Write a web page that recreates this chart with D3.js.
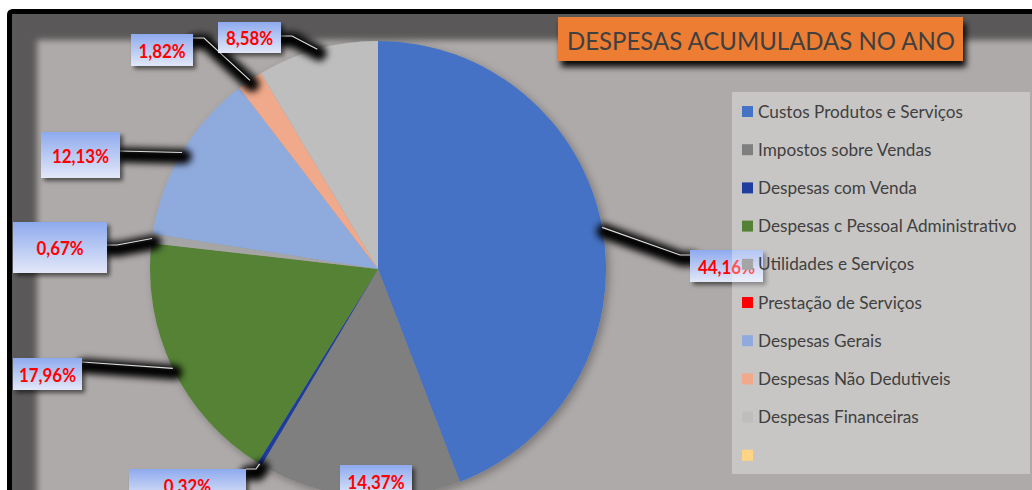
<!DOCTYPE html>
<html><head><meta charset="utf-8">
<script src="https://cdn.jsdelivr.net/npm/d3@7/dist/d3.min.js"></script>
<style>html,body{margin:0;padding:0;background:#fff;overflow:hidden}svg{display:block}</style>
</head><body>
<svg id="c" width="1032" height="490"></svg>
<script>
// ---------- DATA ----------
const categories = ["Custos Produtos e Serviços","Impostos sobre Vendas","Despesas com Venda","Despesas c Pessoal Administrativo","Utilidades e Serviços","Prestação de Serviços","Despesas Gerais","Despesas Não Dedutiveis","Despesas Financeiras",""];
const values = [44.16, 14.37, 0.32, 17.96, 0.67, 0, 12.13, 1.82, 8.58, 0];
const valueLabels = ["44,16%","14,37%","0.32%","17,96%","0,67%",null,"12,13%","1,82%","8,58%",null];
const colors = ["#4472c4","#7f7f7f","#1f3c9f","#548235","#a5a5a5","#ff0000","#8faadc","#f0a98a","#bebebe","#ffd585"];
const titleText = "DESPESAS ACUMULADAS NO ANO";

// ---------- LAYOUT (manually placed labels, as in the original) ----------
const W = 1032, H = 490;
const cx = 378, cy = 269, R = 228;
const labelLayout = [
  {i:0, box:[690,250,73,32], pts:[[680,255],[690,255]]},
  {i:1, box:[340,465,72,32], pts:null},
  {i:2, box:[129,469,117,32], pts:[[256,469],[246,469]]},
  {i:3, box:[13,358,69,32], pts:[[82,362]]},
  {i:4, box:[13,222,94,51], pts:[[117,245],[107,245]]},
  {i:6, box:[41,132,79,46], pts:[[120,151]]},
  {i:7, box:[131,34,62,32], pts:[[204,38],[193,38]]},
  {i:8, box:[218,22,63,31], pts:[[292,36],[281,36]]}
];

const svg = d3.select("#c");
const defs = svg.append("defs");

function blurFilter(id, sd){
  const f = defs.append("filter").attr("id", id).attr("filterUnits","userSpaceOnUse")
    .attr("x",-50).attr("y",-50).attr("width",W+200).attr("height",H+200);
  f.append("feGaussianBlur").attr("stdDeviation", sd);
}
blurFilter("plotBlur", 3);
blurFilter("leadBlur", 3.5);
function shadowFilter(id, dx, dy, sd, op){
  const f = defs.append("filter").attr("id", id).attr("x","-30%").attr("y","-30%").attr("width","160%").attr("height","160%");
  f.append("feDropShadow").attr("dx",dx).attr("dy",dy).attr("stdDeviation",sd)
    .attr("flood-color","#000").attr("flood-opacity",op);
}
shadowFilter("boxShadow", 3, 3, 2, 0.55);
shadowFilter("titleShadow", 3, 6, 3, 0.95);
shadowFilter("pieShadow", 3, 3, 4, 0.3);

const grad = defs.append("linearGradient").attr("id","boxGrad").attr("x1",0).attr("y1",0).attr("x2",0).attr("y2",1);
grad.append("stop").attr("offset","0%").attr("stop-color","#8eaaee");
grad.append("stop").attr("offset","100%").attr("stop-color","#e3e8f8");

// ---------- BACKGROUND ----------
svg.append("rect").attr("x",9.5).attr("y",11.5).attr("width",W).attr("height",H)
  .attr("fill","#5a5858");
svg.append("rect").attr("x",37).attr("y",40).attr("width",W+60).attr("height",H+60)
  .attr("fill","#aeaaa9").attr("filter","url(#plotBlur)");
svg.append("rect").attr("x",9.5).attr("y",11.5).attr("width",W+20).attr("height",H+20)
  .attr("rx",3).attr("fill","none").attr("stroke","#000").attr("stroke-width",5);

// ---------- PIE ----------
const data = categories.map((c,i)=>({cat:c, v:values[i], color:colors[i], label:valueLabels[i], i}));
const pie = d3.pie().sort(null).value(d=>d.v);
const arcs = pie(data);
const arc = d3.arc().innerRadius(0).outerRadius(R);
const edgeArc = d3.arc().innerRadius(R).outerRadius(R);

const gPie = svg.append("g").attr("transform",`translate(${cx},${cy})`).attr("filter","url(#pieShadow)");
gPie.selectAll("path").data(arcs).join("path")
  .attr("d", arc).attr("fill", d=>d.data.color);

// ---------- LEADERS ----------
const line = d3.line();
const leaders = labelLayout.filter(l=>l.pts).map(l=>{
  const c = edgeArc.centroid(arcs[l.i]);
  return [[cx+c[0], cy+c[1]], ...l.pts];
});
const gLeadSh = svg.append("g").attr("filter","url(#leadBlur)").attr("transform","translate(2,4)");
gLeadSh.selectAll("path").data(leaders).join("path")
  .attr("d", line).attr("fill","none").attr("stroke","#000").attr("stroke-width",15)
  .attr("stroke-linecap","round").attr("stroke-linejoin","round");
svg.append("g").selectAll("path").data(leaders).join("path")
  .attr("d", line).attr("fill","none").attr("stroke","#dcdcdc").attr("stroke-width",1.2);

// ---------- LABEL BOXES ----------
const gLab = svg.append("g");
const lbl = gLab.selectAll("g").data(labelLayout).join("g");
lbl.append("rect")
  .attr("x",d=>d.box[0]).attr("y",d=>d.box[1]).attr("width",d=>d.box[2]).attr("height",d=>d.box[3])
  .attr("fill","url(#boxGrad)").attr("filter","url(#boxShadow)");
const lblText = lbl.append("text")
  .attr("x",d=>d.box[0]+d.box[2]/2).attr("y",d=>d.box[1]+d.box[3]/2+7.5)
  .attr("text-anchor","middle")
  .attr("font-family","Lato, 'Open Sans', sans-serif").attr("font-weight","bold").attr("font-size",18)
  .attr("fill","#ff0000")
  .text(d=>valueLabels[d.i]);
(function(){
  const ref = lblText.filter(d=>d.i===0).node().getComputedTextLength();
  const k = 57/ref;
  lblText.each(function(){ const w=this.getComputedTextLength(); d3.select(this).attr("textLength", w*k).attr("lengthAdjust","spacingAndGlyphs"); });
})();

// ---------- TITLE ----------
svg.append("rect").attr("x",558).attr("y",17).attr("width",405).attr("height",44)
  .attr("fill","#ed7d31").attr("filter","url(#titleShadow)");
svg.append("text").attr("x",761).attr("y",50).attr("text-anchor","middle")
  .attr("font-family","Lato, 'Open Sans', sans-serif").attr("font-size",25).attr("fill","#404040")
  .attr("textLength",388).attr("lengthAdjust","spacingAndGlyphs")
  .text(titleText);

// ---------- LEGEND ----------
svg.append("rect").attr("x",732).attr("y",92).attr("width",298).attr("height",382)
  .attr("fill","#ffffff").attr("fill-opacity",0.33);
const legY = d3.scaleLinear().domain([0,1]).range([106, 144.2]);
const leg = svg.append("g").selectAll("g").data(data).join("g")
  .attr("transform", d=>`translate(742,${legY(d.i)})`);
leg.append("rect").attr("width",11).attr("height",11).attr("fill",d=>d.color);
const legText = leg.append("text").attr("x",16).attr("y",11.5)
  .attr("font-family","Lato, 'Open Sans', sans-serif").attr("font-size",17.5).attr("fill","#404040")
  .text(d=>d.cat);
(function(){
  const ref = legText.filter(d=>d.i===0).node().getComputedTextLength();
  const k = 205/ref;
  legText.each(function(){ const w=this.getComputedTextLength(); if(w>0) d3.select(this).attr("textLength", w*k).attr("lengthAdjust","spacingAndGlyphs"); });
})();
</script>
</body></html>
